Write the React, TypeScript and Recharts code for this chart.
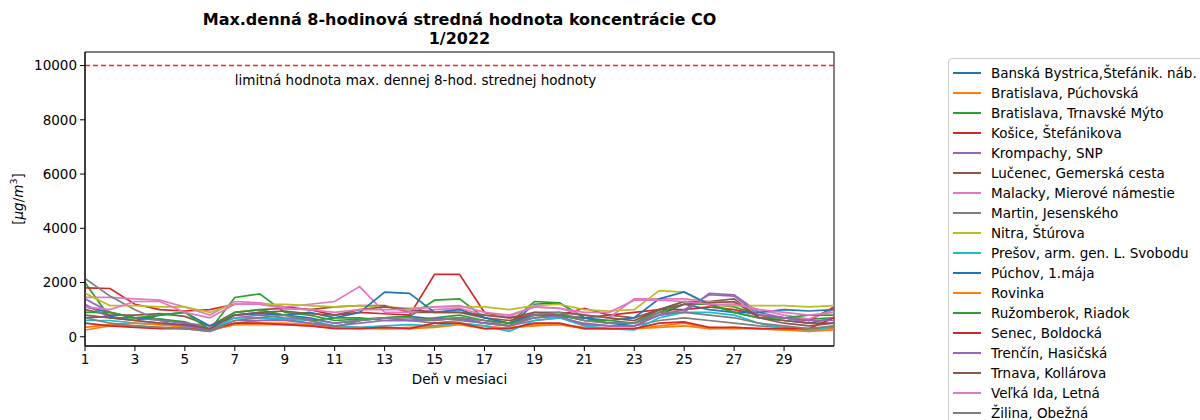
import React from 'react';
import { LineChart, Line, XAxis, YAxis, ReferenceLine, ReferenceArea, ReferenceDot, Legend, Label } from 'recharts';

const days = [1, 2, 3, 4, 5, 6, 7, 8, 9, 10, 11, 12, 13, 14, 15, 16, 17, 18, 19, 20, 21, 22, 23, 24, 25, 26, 27, 28, 29, 30, 31];

const stations = [
  'Banská Bystrica,Štefánik. náb.',
  'Bratislava, Púchovská',
  'Bratislava, Trnavské Mýto',
  'Košice, Štefánikova',
  'Krompachy, SNP',
  'Lučenec, Gemerská cesta',
  'Malacky, Mierové námestie',
  'Martin, Jesenského',
  'Nitra, Štúrova',
  'Prešov, arm. gen. L. Svobodu',
  'Púchov, 1.mája',
  'Rovinka',
  'Ružomberok, Riadok',
  'Senec, Boldocká',
  'Trenčín, Hasičská',
  'Trnava, Kollárova',
  'Veľká Ida, Letná',
  'Žilina, Obežná',
];

const colors = ['#1f77b4', '#ff7f0e', '#2ca02c', '#d62728', '#9467bd', '#8c564b', '#e377c2', '#7f7f7f', '#bcbd22', '#17becf',
  '#1f77b4', '#ff7f0e', '#2ca02c', '#d62728', '#9467bd', '#8c564b', '#e377c2', '#7f7f7f'];

const banskaBystrica = [1100, 900, 700, 650, 500, 300, 800, 850, 800, 700, 500, 600, 700, 750, 650, 700, 500, 400, 1200, 1250, 700, 500, 400, 800, 1200, 1000, 900, 700, 600, 500, 700];
const baPuchovska = [250, 400, 400, 350, 300, 250, 450, 500, 500, 450, 350, 350, 300, 350, 400, 500, 400, 300, 450, 450, 350, 300, 300, 350, 400, 300, 300, 300, 250, 250, 300];
const baTrnavskeMyto = [2000, 700, 700, 650, 550, 250, 1450, 1580, 900, 800, 600, 650, 700, 750, 1350, 1400, 700, 500, 1300, 1250, 700, 500, 500, 1000, 1300, 1200, 1100, 800, 700, 650, 700];
const kosice = [1800, 1780, 1200, 1000, 950, 1000, 1200, 1200, 1100, 1000, 800, 900, 850, 800, 2300, 2300, 900, 700, 800, 800, 1050, 800, 900, 1000, 1000, 1100, 1000, 800, 700, 600, 1100];
const krompachy = [1400, 900, 700, 600, 500, 400, 700, 800, 700, 650, 500, 600, 700, 600, 600, 700, 600, 500, 900, 800, 600, 500, 500, 800, 900, 1600, 1550, 900, 700, 500, 700];
const lucenec = [1000, 800, 800, 850, 750, 400, 900, 1000, 1050, 1000, 1100, 1150, 1150, 900, 900, 900, 700, 600, 800, 800, 700, 800, 700, 1000, 1300, 1300, 1400, 700, 600, 500, 500];
const malacky = [1450, 1450, 1400, 1350, 1100, 800, 1300, 1250, 1100, 1200, 1300, 1850, 900, 900, 1000, 1050, 800, 750, 1100, 1050, 800, 700, 1400, 1400, 1400, 1300, 1250, 1000, 800, 650, 1000];
const martin = [2150, 1500, 1000, 600, 300, 200, 500, 600, 650, 500, 350, 600, 700, 600, 500, 600, 500, 400, 600, 700, 500, 400, 400, 600, 700, 600, 500, 400, 350, 300, 350];
const nitra = [1600, 1150, 1150, 1100, 1100, 900, 1200, 1200, 1200, 1150, 1100, 1150, 1100, 1050, 1100, 1100, 1100, 1000, 1150, 1200, 1000, 950, 1000, 1700, 1650, 1150, 1150, 1150, 1150, 1100, 1150];
const presov = [600, 600, 500, 450, 400, 250, 700, 700, 650, 600, 400, 350, 400, 450, 400, 500, 400, 200, 600, 700, 400, 300, 250, 700, 900, 900, 800, 500, 300, 200, 400];
const puchov = [700, 750, 600, 800, 900, 400, 800, 900, 800, 900, 700, 900, 1650, 1600, 900, 1000, 700, 500, 800, 750, 700, 600, 700, 1400, 1650, 1200, 900, 900, 1000, 950, 1000];
const rovinka = [350, 450, 500, 450, 350, 250, 450, 450, 450, 400, 350, 300, 300, 300, 350, 450, 300, 350, 400, 450, 300, 300, 300, 400, 500, 300, 350, 300, 250, 200, 250];
const ruzomberok = [900, 900, 700, 800, 900, 250, 900, 1000, 800, 600, 700, 700, 600, 600, 700, 800, 600, 500, 700, 800, 600, 600, 500, 900, 1200, 1200, 900, 700, 700, 800, 800];
const senec = [500, 400, 350, 300, 300, 250, 500, 500, 450, 400, 300, 300, 350, 300, 500, 500, 300, 300, 500, 500, 300, 300, 300, 500, 550, 350, 350, 300, 300, 300, 700];
const trencin = [1200, 700, 600, 500, 400, 250, 600, 600, 600, 500, 400, 500, 600, 600, 650, 650, 500, 400, 700, 750, 450, 400, 400, 800, 1000, 1550, 1500, 800, 700, 600, 600];
const trnava = [800, 700, 600, 500, 450, 300, 800, 900, 950, 850, 800, 1000, 1100, 1000, 900, 900, 800, 700, 900, 900, 800, 700, 600, 1000, 1200, 1250, 1300, 700, 500, 400, 500];
const velkaIda = [1100, 1000, 1300, 1300, 900, 700, 1200, 1200, 1050, 1000, 900, 1000, 1000, 1000, 1100, 1150, 900, 800, 1100, 1050, 900, 900, 1350, 1350, 1300, 1200, 1200, 1000, 900, 800, 900];
const zilina = [700, 500, 400, 350, 300, 200, 600, 700, 800, 600, 350, 600, 700, 700, 600, 700, 600, 400, 800, 900, 600, 500, 500, 900, 900, 800, 700, 500, 400, 300, 400];

const seriesValues = [banskaBystrica, baPuchovska, baTrnavskeMyto, kosice, krompachy, lucenec, malacky, martin, nitra, presov,
  puchov, rovinka, ruzomberok, senec, trencin, trnava, velkaIda, zilina];

const yTicks = [0, 2000, 4000, 6000, 8000, 10000];
const xTicks = [1, 3, 5, 7, 9, 11, 13, 15, 17, 19, 21, 23, 25, 27, 29];
const limitValue = 10000;
const limitText = 'limitná hodnota max. dennej 8-hod. strednej hodnoty';
const titleLines = ['Max.denná 8-hodinová stredná hodnota koncentrácie CO', '1/2022'];
const xLabel = 'Deň v mesiaci';

const data = days.map((d, i) => {
  const row: Record<string, number> = { day: d };
  seriesValues.forEach((s, j) => { row['s' + j] = s[i]; });
  return row;
});

const FONT = "'DejaVu Sans', sans-serif";
const FS = 13.5;

const LegendBox = (props: any) => {
  const { payload } = props;
  return (
    <div style={{ border: '1px solid #cccccc', borderRadius: 4, background: '#fff', padding: '4px 0 6px 4px', width: 300, fontFamily: FONT, fontSize: FS, color: '#000', boxSizing: 'border-box' }}>
      {(payload || []).map((p: any, i: number) => (
        <div key={i} style={{ display: 'flex', alignItems: 'center', height: 20, whiteSpace: 'nowrap' }}>
          <span style={{ display: 'inline-block', width: 28, height: 2, background: p.color, marginRight: 10 }} />
          <span>{p.value}</span>
        </div>
      ))}
    </div>
  );
};

const YLabel = (props: any) => {
  const vb = props.viewBox;
  const cx = vb.x - 7;
  const cy = vb.y + vb.height / 2;
  return (
    <text x={cx} y={cy} transform={`rotate(-90, ${cx}, ${cy})`} textAnchor="middle" dominantBaseline="central" fontFamily={FONT} fontSize={FS} fill="#000">
      [<tspan fontStyle="italic">μg</tspan>/<tspan fontStyle="italic">m</tspan><tspan fontSize={9.5} dy={-5}>3</tspan><tspan dy={5}>]</tspan>
    </text>
  );
};

const LimitLabel = (props: any) => {
  const vb = props.viewBox;
  return (
    <text x={vb.x} y={vb.y} dominantBaseline="central" fontFamily={FONT} fontSize={FS} fill="#000">{limitText}</text>
  );
};

export default function App() {
  return (
    <div style={{ position: 'absolute', left: 0, top: 0, width: 1200, height: 420, overflow: 'hidden', background: '#fff' }}>
      <div style={{ position: 'absolute', left: 85, width: 749, top: 10, textAlign: 'center', fontFamily: FONT, fontWeight: 'bold', fontSize: 16, lineHeight: '19px', color: '#000' }}>
        {titleLines.map((t, i) => <div key={i}>{t}</div>)}
      </div>
      <LineChart width={1200} height={420} data={data} margin={{ top: 52, right: 366, bottom: 44, left: 25 }} style={{ position: 'absolute', left: 0, top: 0 }}>
        <XAxis dataKey="day" type="number" domain={[1, 31]} ticks={xTicks} allowDataOverflow height={30}
          tick={{ fontFamily: FONT, fontSize: FS, fill: '#000' }} tickSize={5} tickMargin={3}
          stroke="#000" tickLine={{ stroke: '#000' }}>
          <Label value={xLabel} position="bottom" offset={-2} style={{ fontFamily: FONT, fontSize: FS, fill: '#000' }} />
        </XAxis>
        <YAxis type="number" domain={[-340, 10500]} ticks={yTicks} allowDataOverflow width={60}
          tick={{ fontFamily: FONT, fontSize: FS, fill: '#000' }} tickSize={5} tickMargin={3}
          stroke="#000" tickLine={{ stroke: '#000' }}>
          <Label content={<YLabel />} />
        </YAxis>
        <ReferenceArea x1={1} x2={31} y1={-340} y2={10500} fill="none" stroke="#000" strokeWidth={1} />
        {seriesValues.map((_, j) => (
          <Line key={j} dataKey={'s' + j} name={stations[j]} stroke={colors[j]} strokeWidth={1.7} dot={false} isAnimationActive={false} type="linear" />
        ))}
        <ReferenceLine y={limitValue} stroke="#ff0000" strokeDasharray="5 3" strokeWidth={1.6} style={{ stroke: '#ff2020' }} />
        <ReferenceDot x={7} y={9450} r={0} fill="none" stroke="none" label={<LimitLabel />} />
        <Legend layout="vertical" align="center" verticalAlign="middle" content={<LegendBox />}
          wrapperStyle={{ left: 948, top: 58, width: 300, height: 'auto' }} />
      </LineChart>
    </div>
  );
}
